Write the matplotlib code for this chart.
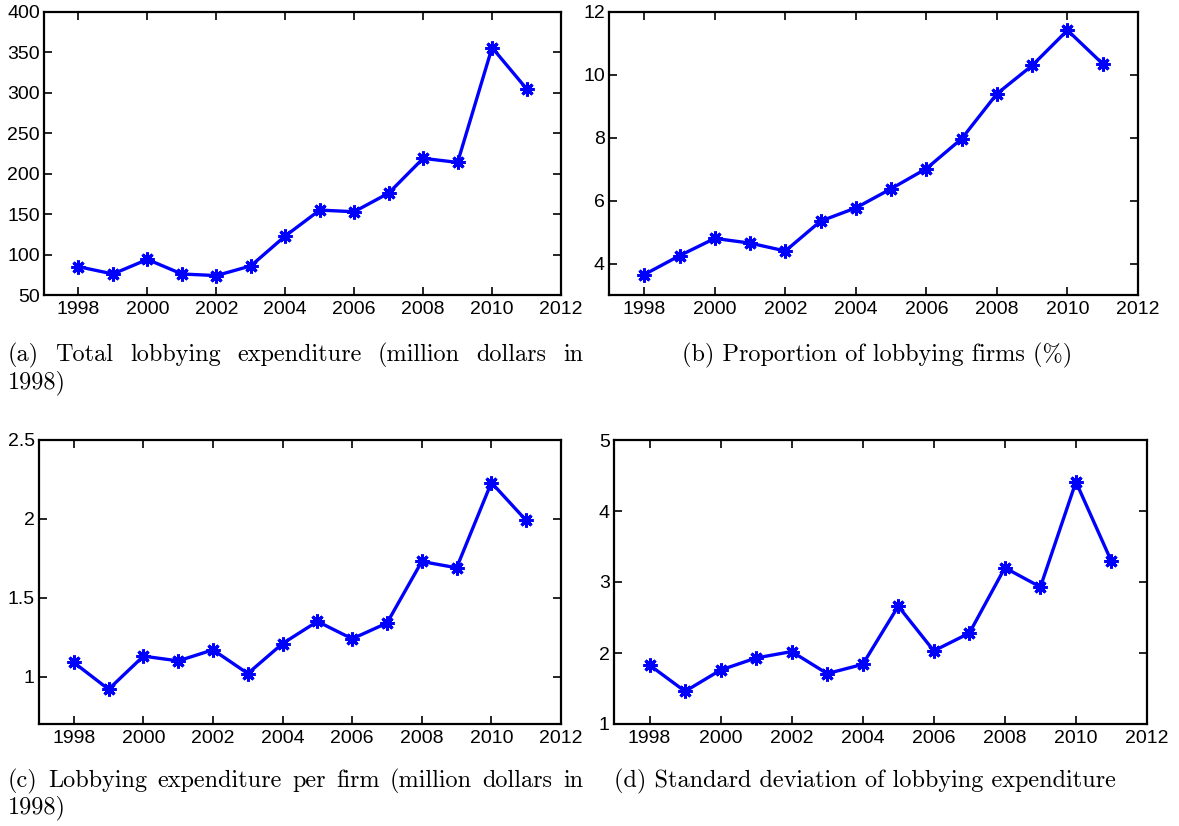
import numpy as np
import matplotlib
matplotlib.use("Agg")
import matplotlib.pyplot as plt

plt.rcParams['font.family'] = ['Liberation Sans', 'DejaVu Sans']

YEARS = list(range(1998, 2012))

# (a) total lobbying expenditure, million 1998 dollars
TOTAL_EXP = [85, 76, 94, 76, 74, 86, 123, 155, 153, 176, 219, 214, 356, 305]
# (b) share of firms that lobby, percent
PROP_FIRMS = [3.65, 4.25, 4.8, 4.65, 4.4, 5.35, 5.77, 6.38, 7.02, 7.97, 9.4,
              10.3, 11.42, 10.35]
# (c) expenditure per lobbying firm
EXP_PER_FIRM = [1.09, 0.92, 1.13, 1.10, 1.17, 1.02, 1.21, 1.35, 1.24, 1.34,
                1.73, 1.69, 2.23, 1.99]
# (d) standard deviation of expenditure
STD_EXP = [1.83, 1.46, 1.76, 1.93, 2.02, 1.71, 1.84, 2.66, 2.03, 2.28, 3.2,
           2.93, 4.41, 3.29]

X_TICKS = [1998, 2000, 2002, 2004, 2006, 2008, 2010, 2012]

W, H = 1179, 826
FIG = plt.figure(figsize=(W / 100, H / 100), dpi=100)


def px_axes(left, right, top, bottom):
    return FIG.add_axes([left / W, 1 - bottom / H, (right - left) / W,
                         (bottom - top) / H])


def panel(ax, values, ylim, yticks, yticklabels):
    ax.plot(YEARS, values, color='#0000ff', linewidth=2.4,
            marker=(8, 2, 0), markersize=10, markeredgewidth=2.2)
    ax.set_xlim(1997, 2012)
    ax.set_ylim(*ylim)
    ax.set_xticks(X_TICKS)
    ax.set_yticks(yticks)
    ax.set_yticklabels(yticklabels)
    ax.tick_params(direction='in', top=True, right=True, length=6, width=1.2,
                   labelsize=14)
    ax.tick_params(axis='x', pad=4)
    ax.tick_params(axis='y', pad=3)
    for s in ax.spines.values():
        s.set_linewidth(1.6)


AX_A = px_axes(44, 561, 12, 295)
panel(AX_A, TOTAL_EXP, (50, 400), range(50, 401, 50),
      [str(v) for v in range(50, 401, 50)])

AX_B = px_axes(609, 1138, 12, 295)
panel(AX_B, PROP_FIRMS, (3, 12), [4, 6, 8, 10, 12],
      ['4', '6', '8', '10', '12'])

AX_C = px_axes(39, 561, 440, 724)
panel(AX_C, EXP_PER_FIRM, (0.7, 2.5), [1, 1.5, 2, 2.5],
      ['1', '1.5', '2', '2.5'])

AX_D = px_axes(614, 1147, 440, 724)
panel(AX_D, STD_EXP, (1, 5), [1, 2, 3, 4, 5], ['1', '2', '3', '4', '5'])

# captions in a serif face, long ones justified across the column
CAP_FONT = dict(family=['cmr10', 'DejaVu Serif'], fontsize=17.5)
RENDERER = FIG.canvas.get_renderer()


def justified_line(text, x0, x1, y):
    words = text.split()
    items = [FIG.text(0, y, w, va='center', ha='left', **CAP_FONT)
             for w in words]
    widths = [t.get_window_extent(RENDERER).width for t in items]
    gap = (x1 - x0 - sum(widths)) / (len(words) - 1)
    x = x0
    for t, w in zip(items, widths):
        t.set_x(x / W)
        x += w + gap


def fy(y):
    return 1 - y / H


justified_line("(a) Total lobbying expenditure (million dollars in", 8, 583,
               fy(355))
FIG.text(8 / W, fy(383), "1998)", va='center', ha='left', **CAP_FONT)
FIG.text(877 / W, fy(355), "(b) Proportion of lobbying firms (%)",
         va='center', ha='center', **CAP_FONT)
justified_line("(c) Lobbying expenditure per firm (million dollars in", 8, 583,
               fy(781))
FIG.text(8 / W, fy(808), "1998)", va='center', ha='left', **CAP_FONT)
FIG.text(865 / W, fy(781), "(d) Standard deviation of lobbying expenditure",
         va='center', ha='center', **CAP_FONT)

FIG.savefig('out.png', dpi=100)
